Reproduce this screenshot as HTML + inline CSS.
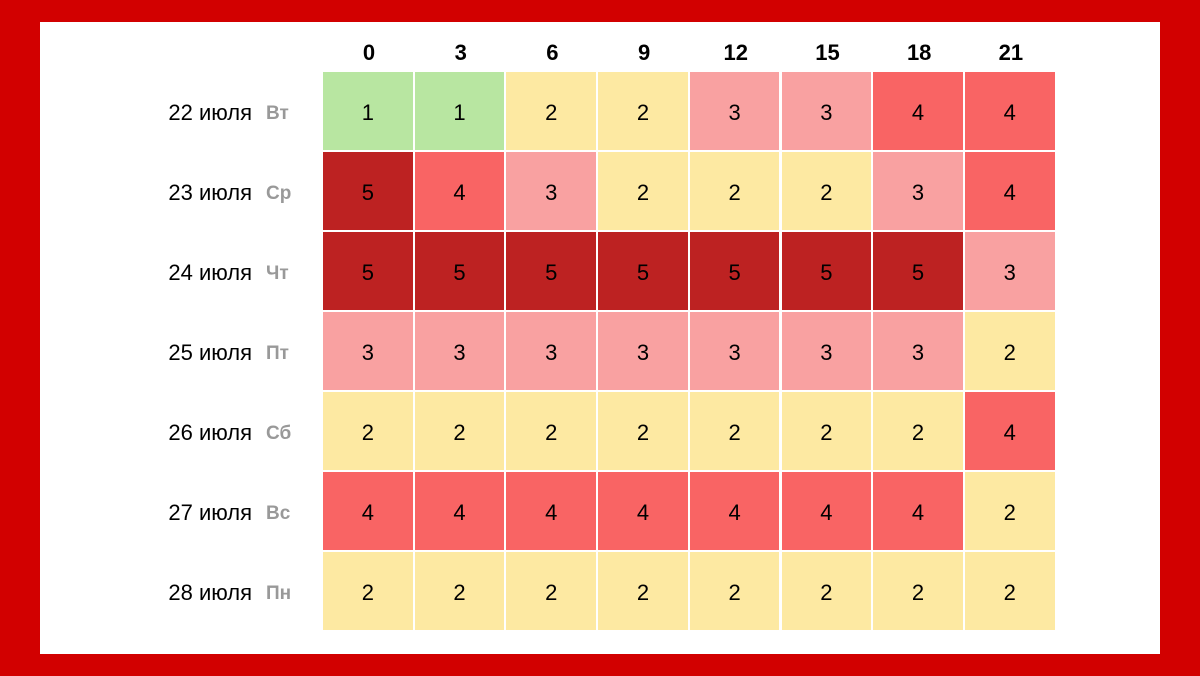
<!DOCTYPE html>
<html><head><meta charset="utf-8"><style>
body{margin:0;width:1200px;height:676px;background:#d20000;position:relative;overflow:hidden;font-family:"Liberation Sans",Arial,sans-serif}
#w{position:absolute;left:40px;top:22px;width:1120px;height:632px;background:#fff}
.c{position:absolute;display:flex;align-items:center;justify-content:center;font-size:22px;color:#000;padding-top:3px;box-sizing:border-box}
.h{position:absolute;font-weight:bold;font-size:22px;width:92px;text-align:center;top:40px;color:#000}
.l{position:absolute;left:97px;width:155px;text-align:right;font-size:22px;color:#000}
.d{position:absolute;left:266px;font-size:19px;font-weight:bold;color:#999}
</style></head><body><div id="w"></div><div id="g"></div>
<script>
var data=[[1,1,2,2,3,3,4,4],[5,4,3,2,2,2,3,4],[5,5,5,5,5,5,5,3],[3,3,3,3,3,3,3,2],[2,2,2,2,2,2,2,4],[4,4,4,4,4,4,4,2],[2,2,2,2,2,2,2,2]];
var col={1:"#b8e6a1",2:"#fde9a2",3:"#f9a1a1",4:"#f96464",5:"#bd2222"};
var hs=[0,3,6,9,12,15,18,21],days=["22","23","24","25","26","27","28"],wd=["Вт","Ср","Чт","Пт","Сб","Вс","Пн"];
var h="",x0=323,cw=91.7,y0=72,rh=80;
for(var j=0;j<8;j++)h+='<div class="h" style="left:'+(x0+j*cw)+'px">'+hs[j]+'</div>';
for(var i=0;i<7;i++){var y=y0+i*rh;
h+='<div class="l" style="top:'+(y+28)+'px">'+days[i]+' июля</div><div class="d" style="top:'+(y+31)+'px">'+wd[i]+'</div>';
for(var j=0;j<8;j++){var x=x0+j*cw;h+='<div class="c" style="left:'+x+'px;top:'+y+'px;width:'+(cw-2)+'px;height:'+(rh-2)+'px;background:'+col[data[i][j]]+'">'+data[i][j]+'</div>';}}
document.getElementById("g").innerHTML=h;
</script></body></html>
